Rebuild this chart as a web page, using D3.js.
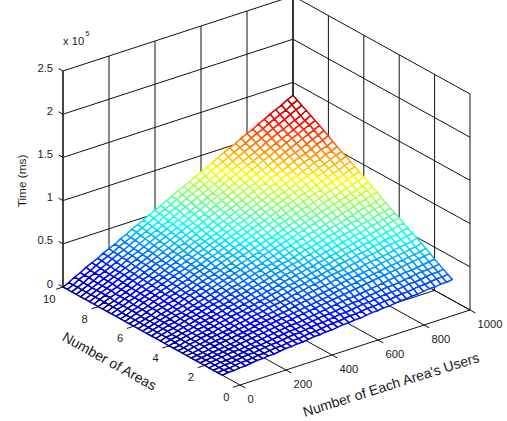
<!DOCTYPE html>
<html><head><meta charset="utf-8">
<script src="https://cdn.jsdelivr.net/npm/d3@7/dist/d3.min.js"></script>
<style>html,body{margin:0;padding:0;background:#fff;overflow:hidden}svg{display:block}text{font-family:"Liberation Sans",Arial,sans-serif;fill:#1a1a1a}</style>
</head><body><svg id="c" width="507" height="421"></svg>
<script>
const userTicks=[0,200,400,600,800,1000];
const areaTicks=[0,2,4,6,8,10];
const timeTicks=[0,0.5,1,1.5,2,2.5];
const users=[0,25,50,75,100,125,150,175,200,225,250,275,300,325,350,375,400,425,450,475,500,525,550,575,600,625,650,675,700,725,750,775,800,825,850,875,900,925,950,975,1000];
const areas=[1,1.25,1.5,1.75,2,2.25,2.5,2.75,3,3.25,3.5,3.75,4,4.25,4.5,4.75,5,5.25,5.5,5.75,6,6.25,6.5,6.75,7,7.25,7.5,7.75,8,8.25,8.5,8.75,9,9.25,9.5,9.75,10];
// time in units of 1000 ms; one row per value of areas, one column per value of users
const time=[
[0,1,1,2,2,3,4,4,5,5,6,7,7,8,8,9,10,10,11,11,12,13,13,14,14,15,16,16,17,17,18,19,19,20,20,21,22,22,23,23,24],
[0,1,1,2,3,3,4,5,5,6,7,7,8,9,9,10,11,11,12,13,14,14,15,16,16,17,18,18,19,20,20,21,22,22,23,24,24,25,26,26,27],
[0,1,2,2,3,4,5,5,6,7,8,8,9,10,11,11,12,13,14,14,15,16,17,17,18,19,20,20,21,22,23,23,24,25,26,26,27,28,29,29,30],
[0,1,2,2,3,4,5,6,7,7,8,9,10,11,12,12,13,14,15,16,17,17,18,19,20,21,21,22,23,24,25,26,26,27,28,29,30,31,31,32,33],
[0,1,2,3,4,5,5,6,7,8,9,10,11,12,13,14,14,15,16,17,18,19,20,21,22,23,23,24,25,26,27,28,29,30,31,32,32,33,34,35,36],
[0,1,2,3,4,5,6,7,8,9,10,11,12,13,14,15,16,17,18,19,20,21,22,23,24,25,26,27,28,29,30,31,32,33,34,35,36,37,38,39,40],
[0,1,2,3,4,5,6,7,9,10,11,12,13,14,15,16,17,18,19,20,21,22,23,24,26,27,28,29,30,31,32,33,34,35,36,37,38,39,40,41,43],
[0,1,2,3,5,6,7,8,9,10,11,13,14,15,16,17,18,19,21,22,23,24,25,26,27,28,30,31,32,33,34,35,36,38,39,40,41,42,43,44,46],
[0,1,2,4,5,6,7,9,10,11,12,13,15,16,17,18,19,21,22,23,24,26,27,28,29,30,32,33,34,35,36,38,39,40,41,42,44,45,46,47,49],
[0,1,3,4,5,7,8,9,10,12,13,14,16,17,18,20,21,22,23,25,26,27,29,30,31,33,34,35,36,38,39,40,42,43,44,46,47,48,49,51,52],
[0,1,3,4,6,7,8,10,11,12,14,15,17,18,19,21,22,23,25,26,28,29,30,32,33,34,36,37,39,40,41,43,44,45,47,48,50,51,52,54,55],
[0,1,3,4,6,7,9,10,12,13,15,16,17,19,20,22,23,25,26,28,29,30,32,33,35,36,38,39,41,42,44,45,46,48,49,51,52,54,55,57,58],
[0,2,3,5,6,8,9,11,12,14,15,17,18,20,21,23,24,26,27,29,31,32,34,35,37,38,40,41,43,44,46,47,49,50,52,53,55,56,58,60,61],
[0,2,3,5,6,8,10,11,13,14,16,18,19,21,22,24,26,27,29,30,32,34,35,37,38,40,42,43,45,46,48,50,51,53,54,56,58,59,61,62,64],
[0,2,3,5,7,8,10,12,13,15,17,18,20,22,23,25,27,28,30,32,34,35,37,39,40,42,44,45,47,49,50,52,54,55,57,59,60,62,64,65,67],
[0,2,4,5,7,9,11,12,14,16,18,19,21,23,25,26,28,30,32,33,35,37,39,40,42,44,46,47,49,51,53,54,56,58,60,61,63,65,67,68,70],
[0,2,4,6,7,9,11,13,15,16,18,20,22,24,26,27,29,31,33,35,37,38,40,42,44,46,47,49,51,53,55,57,58,60,62,64,66,68,69,71,73],
[0,2,4,6,8,10,11,13,15,17,19,21,23,25,27,29,31,33,34,36,38,40,42,44,46,48,50,52,54,55,57,59,61,63,65,67,69,71,73,75,77],
[0,2,4,6,8,10,12,14,16,18,20,22,24,26,28,30,32,34,36,38,40,42,44,46,48,50,52,54,56,58,60,62,64,66,68,70,72,74,76,78,80],
[0,2,4,6,8,10,12,14,17,19,21,23,25,27,29,31,33,35,37,39,41,43,45,47,50,52,54,56,58,60,62,64,66,68,70,72,74,76,78,80,83],
[0,2,4,6,9,11,13,15,17,19,21,24,26,28,30,32,34,36,39,41,43,45,47,49,51,53,56,58,60,62,64,66,68,71,73,75,77,79,81,83,86],
[0,2,4,7,9,11,13,16,18,20,22,24,27,29,31,33,36,38,40,42,45,47,49,51,53,56,58,60,62,65,67,69,71,73,76,78,80,82,85,87,89],
[0,2,5,7,9,12,14,16,18,21,23,25,28,30,32,35,37,39,41,44,46,48,51,53,55,58,60,62,64,67,69,71,74,76,78,81,83,85,87,90,92],
[0,2,5,7,10,12,14,17,19,21,24,26,29,31,33,36,38,40,43,45,48,50,52,55,57,59,62,64,67,69,71,74,76,78,81,83,86,88,90,93,95],
[0,2,5,7,10,12,15,17,20,22,25,27,29,32,34,37,39,42,44,47,49,51,54,56,59,61,64,66,69,71,74,76,78,81,83,86,88,91,93,96,98],
[0,3,5,8,10,13,15,18,20,23,25,28,30,33,35,38,40,43,45,48,51,53,56,58,61,63,66,68,71,73,76,78,81,83,86,88,91,93,96,99,101],
[0,3,5,8,10,13,16,18,21,23,26,29,31,34,36,39,42,44,47,49,52,55,57,60,62,65,68,70,73,75,78,81,83,86,88,91,94,96,99,101,104],
[0,3,5,8,11,13,16,19,21,24,27,29,32,35,37,40,43,45,48,51,54,56,59,62,64,67,70,72,75,78,80,83,86,88,91,94,96,99,102,104,107],
[0,3,6,8,11,14,17,19,22,25,28,30,33,36,39,41,44,47,50,52,55,58,61,64,66,69,72,75,77,80,83,86,88,91,94,97,99,102,105,108,111],
[0,3,6,9,11,14,17,20,23,26,28,31,34,37,40,43,45,48,51,54,57,60,62,65,68,71,74,77,79,82,85,88,91,94,97,99,102,105,108,111,114],
[0,3,6,9,12,15,18,20,23,26,29,32,35,38,41,44,47,50,52,55,58,61,64,67,70,73,76,79,82,85,87,90,93,96,99,102,105,108,111,114,117],
[0,3,6,9,12,15,18,21,24,27,30,33,36,39,42,45,48,51,54,57,60,63,66,69,72,75,78,81,84,87,90,93,96,99,102,105,108,111,114,117,120],
[0,3,6,9,12,15,18,21,25,28,31,34,37,40,43,46,49,52,55,58,61,64,67,70,74,77,80,83,86,89,92,95,98,101,104,107,110,113,116,119,123],
[0,3,6,9,13,16,19,22,25,28,31,35,38,41,44,47,50,53,57,60,63,66,69,72,75,78,82,85,88,91,94,97,100,104,107,110,113,116,119,122,126],
[0,3,6,10,13,16,19,23,26,29,32,36,39,42,45,48,52,55,58,61,65,68,71,74,77,81,84,87,90,94,97,100,103,106,110,113,116,119,123,126,129],
[0,3,7,10,13,17,20,23,26,30,33,36,40,43,46,50,53,56,59,63,66,69,73,76,79,83,86,89,92,96,99,102,106,109,112,116,119,122,125,129,132],
[0,3,7,10,14,17,20,24,27,30,34,37,41,44,47,51,54,57,61,64,68,71,74,78,81,84,88,91,95,98,101,105,108,111,115,118,122,125,128,132,135]
];
time.forEach((r,j)=>{if(r.length!==users.length)throw new Error("row "+j+" has "+r.length)});
if(time.length!==areas.length)throw new Error("rows "+time.length);

const svg=d3.select("#c");
const sx=d3.scaleLinear().domain([0,1000]).range([0,1]);
const sy=d3.scaleLinear().domain([0,10]).range([0,1]);
const sz=d3.scaleLinear().domain([0,2.5]).range([0,-216]);
const O=[240,385],VX=[230,-75],VY=[-177,-98];
const P=(x,y,z)=>[O[0]+sx(x)*VX[0]+sy(y)*VY[0],O[1]+sx(x)*VX[1]+sy(y)*VY[1]+sz(z)];
const line=d3.line();
const seg=(a,b,w,c)=>svg.append("path").attr("d",line([a,b])).attr("fill","none").attr("stroke",c||"#111").attr("stroke-width",w||1);

// walls and floor grid
timeTicks.forEach(t=>{
  seg(P(0,10,t),P(1000,10,t));
  seg(P(1000,10,t),P(1000,0,t));
});
userTicks.forEach(u=>{ seg(P(u,10,0),P(u,10,2.5)); seg(P(u,0,0),P(u,10,0)); });
areaTicks.forEach(a=>{ seg(P(1000,a,0),P(1000,a,2.5)); seg(P(0,a,0),P(1000,a,0)); });
seg(P(0,10,0),P(0,10,2.5),1.6,"#333");
seg(P(1000,10,0),P(1000,10,2.5),1.6,"#333");

// ticks
const tk=(p,d)=>seg(p,[p[0]+d[0],p[1]+d[1]]);
timeTicks.forEach(t=>tk(P(0,10,t),[-4.4,-2.4]));
areaTicks.forEach(a=>tk(P(0,a,0),[-6.9,2.25]));
userTicks.forEach(u=>tk(P(u,0,0),[5.3,2.9]));

// surface, back to front
const jet=d3.scaleLinear().domain([0,.125,.375,.625,.875,1])
  .range(["#000080","#0000ff","#00ffff","#ffff00","#ff0000","#800000"]).interpolate(d3.interpolateRgb);
const col=d3.scaleLinear().domain([-4,135]).range([0,1]);
const g=svg.append("g");
for(let j=areas.length-2;j>=0;j--){
  for(let i=users.length-2;i>=0;i--){
    const v=[[i,j],[i+1,j],[i+1,j+1],[i,j+1]];
    const pts=v.map(([a,b])=>P(users[a],areas[b],time[b][a]/100));
    const m=d3.mean(v,([a,b])=>time[b][a]);
    g.append("path").attr("d",line(pts)+"Z").attr("fill","#fff").attr("stroke",jet(col(m))).attr("stroke-width",1.5).attr("stroke-linejoin","round");
  }
}

// labels
const lab=(x,y,s,anc,fs)=>svg.append("text").attr("x",x).attr("y",y).attr("text-anchor",anc||"middle").attr("dominant-baseline","central").attr("font-size",fs||11.2).text(s);
timeTicks.forEach(t=>{const p=P(0,10,t);lab(53,p[1]-3.5,String(t),"end");});
areaTicks.forEach(a=>{const p=P(0,a,0);lab(p[0]-13.7,p[1]+12,String(a));});
userTicks.forEach(u=>{const p=P(u,0,0);lab(p[0]+7.5,p[1]+14,String(u),"start");});
lab(63,41,"x 10","start");
lab(85.5,33,"5","start",7);
svg.append("text").attr("transform","translate(22,181) rotate(-90)").attr("text-anchor","middle").attr("dominant-baseline","central").attr("font-size",11.8).text("Time (ms)");
svg.append("text").attr("transform","translate(109.5,361) rotate(29)").attr("text-anchor","middle").attr("dominant-baseline","central").attr("font-size",14).text("Number of Areas");
svg.append("text").attr("transform","translate(391,384.5) rotate(-17.5)").attr("text-anchor","middle").attr("dominant-baseline","central").attr("font-size",14).text("Number of Each Area's Users");
</script></body></html>
